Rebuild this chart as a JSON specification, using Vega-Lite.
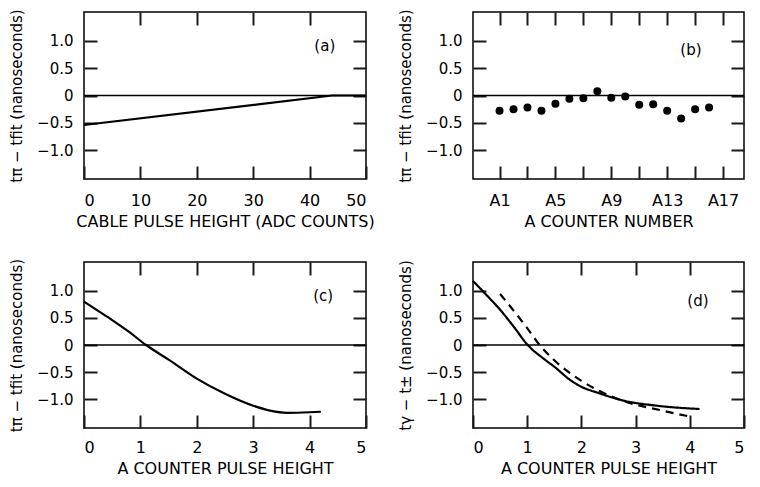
{
  "$schema": "https://vega.github.io/schema/vega-lite/v6.json",
  "background": "white",
  "padding": {"left": 8, "top": 8, "right": 5, "bottom": 5},
  "columns": 2,
  "spacing": {"row": 83, "column": 107},
  "bounds": "flush",
  "config": {
    "view": {"stroke": "black", "strokeWidth": 1.5},
    "axis": {
      "labelFont": "DejaVu Sans", "labelFontSize": 15, "labelColor": "black",
      "titleFont": "DejaVu Sans", "titleFontSize": 15, "titleColor": "black", "titleFontWeight": "normal"
    },
    "axisX": {"labelFontSize": 16, "titleFontSize": 16}
  },
  "concat": [
        {
          "width": 282, "height": 167,
          "layer": [
            {
              "data": {"values": [{"x": 0, "y": -0.54}, {"x": 44, "y": 0}, {"x": 50, "y": 0}]},
              "mark": {"type": "line", "color": "black", "strokeWidth": 2.2},
              "encoding": {
                "x": {"field": "x", "type": "quantitative", "scale": {"domain": [0, 50], "nice": false, "zero": false},
                      "axis": {"orient": "bottom", "values": [0, 10, 20, 30, 40, 50], "grid": false, "domain": false, "tickSize": -13, "tickColor": "#1a1a1a", "tickWidth": 2, "labelPadding": 26, "titlePadding": 5, "title": "CABLE PULSE HEIGHT (ADC COUNTS)"}},
                "y": {"field": "y", "type": "quantitative", "scale": {"domain": [-1.53, 1.53], "nice": false, "zero": false},
                      "axis": {"orient": "left", "values": [-1, -0.5, 0, 0.5, 1], "grid": false, "domain": false, "tickSize": -13, "tickColor": "#1a1a1a", "tickWidth": 2, "labelPadding": 24, "titlePadding": 12, "labelExpr": "datum.value == 0 ? '0' : format(datum.value, '.1f')", "title": "tπ − tfit (nanoseconds)"}}
              }
            },
            {
              "data": {"values": [{"y": 0}]},
              "mark": {"type": "rule", "color": "black", "strokeWidth": 1.3},
              "encoding": {"y": {"field": "y", "type": "quantitative", "axis": {"orient": "right", "values": [-1, -0.5, 0, 0.5, 1], "grid": false, "domain": false, "tickSize": -13, "tickColor": "#1a1a1a", "tickWidth": 2, "labels": false, "title": null}}}
            },
            {
              "data": {"values": [{"x": 42.7, "y": 0.9, "label": "(a)"}]},
              "mark": {"type": "text", "font": "DejaVu Sans", "fontSize": 15, "color": "black"},
              "encoding": {
                "x": {"field": "x", "type": "quantitative", "axis": {"orient": "top", "values": [10, 20, 30, 40], "grid": false, "domain": false, "tickSize": -13, "tickColor": "#1a1a1a", "tickWidth": 2, "labels": false, "title": null}},
                "y": {"field": "y", "type": "quantitative", "axis": null},
                "text": {"field": "label"}
              }
            }
          ],
          "resolve": {"axis": {"x": "independent", "y": "independent"}}
        },
        {
          "width": 271, "height": 167,
          "layer": [
            {
              "data": {"values": [
                {"n": 1, "y": -0.28}, {"n": 2, "y": -0.25}, {"n": 3, "y": -0.22}, {"n": 4, "y": -0.28},
                {"n": 5, "y": -0.15}, {"n": 6, "y": -0.06}, {"n": 7, "y": -0.05}, {"n": 8, "y": 0.08},
                {"n": 9, "y": -0.04}, {"n": 10, "y": -0.02}, {"n": 11, "y": -0.17}, {"n": 12, "y": -0.16},
                {"n": 13, "y": -0.28}, {"n": 14, "y": -0.42}, {"n": 15, "y": -0.25}, {"n": 16, "y": -0.22}
              ]},
              "mark": {"type": "circle", "color": "black", "opacity": 1, "size": 64},
              "encoding": {
                "x": {"field": "n", "type": "quantitative", "scale": {"domain": [-0.9, 18.5], "nice": false, "zero": false},
                      "axis": {"orient": "bottom", "values": [1, 3, 5, 7, 9, 11, 13, 15, 17], "grid": false, "domain": false, "tickSize": -13, "tickColor": "#1a1a1a", "tickWidth": 2, "labelPadding": 26, "titlePadding": 5, "labelExpr": "datum.value % 4 == 1 ? 'A' + datum.value : ''", "title": "A COUNTER NUMBER"}},
                "y": {"field": "y", "type": "quantitative", "scale": {"domain": [-1.53, 1.53], "nice": false, "zero": false},
                      "axis": {"orient": "left", "values": [-1, -0.5, 0, 0.5, 1], "grid": false, "domain": false, "tickSize": -13, "tickColor": "#1a1a1a", "tickWidth": 2, "labelPadding": 24, "titlePadding": 12, "labelExpr": "datum.value == 0 ? '0' : format(datum.value, '.1f')", "title": "tπ − tfit (nanoseconds)"}}
              }
            },
            {
              "data": {"values": [{"y": 0}]},
              "mark": {"type": "rule", "color": "black", "strokeWidth": 1.3},
              "encoding": {"y": {"field": "y", "type": "quantitative", "axis": {"orient": "right", "values": [-1, -0.5, 0, 0.5, 1], "grid": false, "domain": false, "tickSize": -13, "tickColor": "#1a1a1a", "tickWidth": 2, "labels": false, "title": null}}}
            },
            {
              "data": {"values": [{"x": 14.7, "y": 0.84, "label": "(b)"}]},
              "mark": {"type": "text", "font": "DejaVu Sans", "fontSize": 15, "color": "black"},
              "encoding": {
                "x": {"field": "x", "type": "quantitative", "axis": {"orient": "top", "values": [1, 3, 5, 7, 9, 11, 13, 15, 17], "grid": false, "domain": false, "tickSize": -13, "tickColor": "#1a1a1a", "tickWidth": 2, "labels": false, "title": null}},
                "y": {"field": "y", "type": "quantitative", "axis": null},
                "text": {"field": "label"}
              }
            }
          ],
          "resolve": {"axis": {"x": "independent", "y": "independent"}}
        },
        {
          "width": 282, "height": 166,
          "layer": [
            {
              "data": {"values": [
                {"x": 0, "y": 0.8}, {"x": 0.25, "y": 0.63}, {"x": 0.5, "y": 0.46}, {"x": 0.8, "y": 0.24},
                {"x": 1.1, "y": 0.0}, {"x": 1.5, "y": -0.27}, {"x": 2.0, "y": -0.62}, {"x": 2.5, "y": -0.9},
                {"x": 3.0, "y": -1.12}, {"x": 3.3, "y": -1.21}, {"x": 3.6, "y": -1.25}, {"x": 4.0, "y": -1.24}, {"x": 4.2, "y": -1.23}
              ]},
              "mark": {"type": "line", "color": "black", "strokeWidth": 2.2, "interpolate": "monotone"},
              "encoding": {
                "x": {"field": "x", "type": "quantitative", "scale": {"domain": [0, 5], "nice": false, "zero": false},
                      "axis": {"orient": "bottom", "values": [0, 1, 2, 3, 4, 5], "grid": false, "domain": false, "tickSize": -13, "tickColor": "#1a1a1a", "tickWidth": 2, "labelPadding": 24, "titlePadding": 5, "title": "A COUNTER PULSE HEIGHT"}},
                "y": {"field": "y", "type": "quantitative", "scale": {"domain": [-1.53, 1.53], "nice": false, "zero": false},
                      "axis": {"orient": "left", "values": [-1, -0.5, 0, 0.5, 1], "grid": false, "domain": false, "tickSize": -13, "tickColor": "#1a1a1a", "tickWidth": 2, "labelPadding": 24, "titlePadding": 12, "labelExpr": "datum.value == 0 ? '0' : format(datum.value, '.1f')", "title": "tπ − tfit (nanoseconds)"}}
              }
            },
            {
              "data": {"values": [{"y": 0}]},
              "mark": {"type": "rule", "color": "black", "strokeWidth": 1.3},
              "encoding": {"y": {"field": "y", "type": "quantitative", "axis": {"orient": "right", "values": [-1, -0.5, 0, 0.5, 1], "grid": false, "domain": false, "tickSize": -13, "tickColor": "#1a1a1a", "tickWidth": 2, "labels": false, "title": null}}}
            },
            {
              "data": {"values": [{"x": 4.24, "y": 0.9, "label": "(c)"}]},
              "mark": {"type": "text", "font": "DejaVu Sans", "fontSize": 15, "color": "black"},
              "encoding": {
                "x": {"field": "x", "type": "quantitative", "axis": {"orient": "top", "values": [1, 2, 3, 4], "grid": false, "domain": false, "tickSize": -13, "tickColor": "#1a1a1a", "tickWidth": 2, "labels": false, "title": null}},
                "y": {"field": "y", "type": "quantitative", "axis": null},
                "text": {"field": "label"}
              }
            }
          ],
          "resolve": {"axis": {"x": "independent", "y": "independent"}}
        },
        {
          "width": 271, "height": 166,
          "layer": [
            {
              "data": {"values": [
                {"curve": "solid", "x": 0, "y": 1.18}, {"curve": "solid", "x": 0.25, "y": 0.92}, {"curve": "solid", "x": 0.5, "y": 0.65},
                {"curve": "solid", "x": 0.75, "y": 0.34}, {"curve": "solid", "x": 1.0, "y": 0.01}, {"curve": "solid", "x": 1.3, "y": -0.25},
                {"curve": "solid", "x": 1.5, "y": -0.4}, {"curve": "solid", "x": 1.8, "y": -0.65}, {"curve": "solid", "x": 2.0, "y": -0.77},
                {"curve": "solid", "x": 2.3, "y": -0.88}, {"curve": "solid", "x": 2.8, "y": -1.03}, {"curve": "solid", "x": 3.4, "y": -1.12},
                {"curve": "solid", "x": 4.18, "y": -1.18},
                {"curve": "dashed", "x": 0.5, "y": 0.94}, {"curve": "dashed", "x": 0.8, "y": 0.57}, {"curve": "dashed", "x": 1.0, "y": 0.31},
                {"curve": "dashed", "x": 1.23, "y": 0.0}, {"curve": "dashed", "x": 1.5, "y": -0.28}, {"curve": "dashed", "x": 2.0, "y": -0.66},
                {"curve": "dashed", "x": 2.4, "y": -0.88}, {"curve": "dashed", "x": 2.8, "y": -1.04}, {"curve": "dashed", "x": 3.5, "y": -1.21},
                {"curve": "dashed", "x": 4.0, "y": -1.32}
              ]},
              "mark": {"type": "line", "color": "black", "strokeWidth": 2.2, "interpolate": "monotone"},
              "encoding": {
                "x": {"field": "x", "type": "quantitative", "scale": {"domain": [0, 5], "nice": false, "zero": false},
                      "axis": {"orient": "bottom", "values": [0, 1, 2, 3, 4, 5], "grid": false, "domain": false, "tickSize": -13, "tickColor": "#1a1a1a", "tickWidth": 2, "labelPadding": 24, "titlePadding": 5, "title": "A COUNTER PULSE HEIGHT"}},
                "y": {"field": "y", "type": "quantitative", "scale": {"domain": [-1.53, 1.53], "nice": false, "zero": false},
                      "axis": {"orient": "left", "values": [-1, -0.5, 0, 0.5, 1], "grid": false, "domain": false, "tickSize": -13, "tickColor": "#1a1a1a", "tickWidth": 2, "labelPadding": 24, "titlePadding": 12, "labelExpr": "datum.value == 0 ? '0' : format(datum.value, '.1f')", "title": "tγ − t± (nanoseconds)"}},
                "detail": {"field": "curve"},
                "strokeDash": {"field": "curve", "type": "nominal", "scale": {"domain": ["solid", "dashed"], "range": [[1, 0], [8, 6]]}, "legend": null}
              }
            },
            {
              "data": {"values": [{"y": 0}]},
              "mark": {"type": "rule", "color": "black", "strokeWidth": 1.3},
              "encoding": {"y": {"field": "y", "type": "quantitative", "axis": {"orient": "right", "values": [-1, -0.5, 0, 0.5, 1], "grid": false, "domain": false, "tickSize": -13, "tickColor": "#1a1a1a", "tickWidth": 2, "labels": false, "title": null}}}
            },
            {
              "data": {"values": [{"x": 4.15, "y": 0.82, "label": "(d)"}]},
              "mark": {"type": "text", "font": "DejaVu Sans", "fontSize": 15, "color": "black"},
              "encoding": {
                "x": {"field": "x", "type": "quantitative", "axis": {"orient": "top", "values": [1, 2, 3, 4], "grid": false, "domain": false, "tickSize": -13, "tickColor": "#1a1a1a", "tickWidth": 2, "labels": false, "title": null}},
                "y": {"field": "y", "type": "quantitative", "axis": null},
                "text": {"field": "label"}
              }
            }
          ],
          "resolve": {"axis": {"x": "independent", "y": "independent"}}
        }
  ]
}
